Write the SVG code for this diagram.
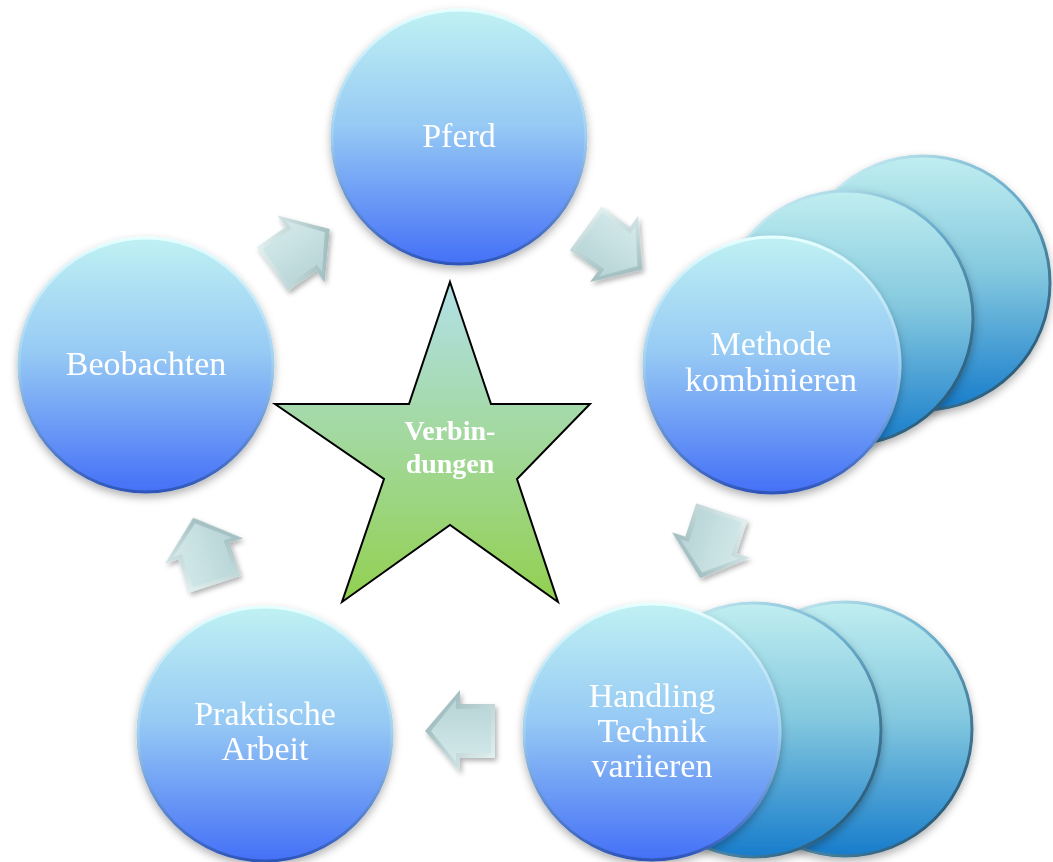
<svg xmlns="http://www.w3.org/2000/svg" width="1053" height="862" viewBox="0 0 1053 862">
<defs>
<linearGradient id="gFront" x1="0" y1="0" x2="0" y2="1">
<stop offset="0" stop-color="#bff1f3"/>
<stop offset="0.45" stop-color="#97caf4"/>
<stop offset="1" stop-color="#4470f7"/>
</linearGradient>
<linearGradient id="gBack" x1="0" y1="0" x2="0" y2="1">
<stop offset="0" stop-color="#c0eef0"/>
<stop offset="0.45" stop-color="#85c9df"/>
<stop offset="1" stop-color="#177ccb"/>
</linearGradient>
<linearGradient id="gRimF" x1="0" y1="0" x2="0" y2="1">
<stop offset="0" stop-color="#e6ffff"/>
<stop offset="0.5" stop-color="#9fd0f0"/>
<stop offset="1" stop-color="#2e55b8"/>
</linearGradient>
<linearGradient id="gRimB" x1="0" y1="0" x2="1" y2="1">
<stop offset="0" stop-color="#e6ffff"/>
<stop offset="0.5" stop-color="#6aaecc"/>
<stop offset="1" stop-color="#143e5c"/>
</linearGradient>
<linearGradient id="gStar" x1="0" y1="0" x2="0" y2="1">
<stop offset="0" stop-color="#b2e0e8"/>
<stop offset="1" stop-color="#92d050"/>
</linearGradient>
<linearGradient id="gArrO" x1="0" y1="0" x2="1" y2="1">
<stop offset="0" stop-color="#eaf6f6"/>
<stop offset="1" stop-color="#8cadb0"/>
</linearGradient>
<linearGradient id="gArrI" x1="0" y1="0" x2="0" y2="1">
<stop offset="0" stop-color="#d3e9ea"/>
<stop offset="1" stop-color="#b7d4d6"/>
</linearGradient>
<filter id="sh" x="-20%" y="-20%" width="140%" height="140%">
<feDropShadow dx="0" dy="4" stdDeviation="4" flood-color="#000" flood-opacity="0.3"/>
</filter>
<filter id="shA" x="-30%" y="-30%" width="160%" height="160%">
<feDropShadow dx="2" dy="3" stdDeviation="2.5" flood-color="#000" flood-opacity="0.3"/>
</filter>
<g id="arrow">
<path d="M -35,-27 L 0,-27 L 0,-41 L 35,0 L 0,41 L 0,27 L -35,27 Z" fill="url(#gArrO)"/>
<path d="M -31,-22 L 4,-22 L 4,-31 L 29,0 L 4,31 L 4,22 L -31,22 Z" fill="url(#gArrI)"/>
</g>
</defs>
<style>
.front { fill: url(#gFront); stroke: url(#gRimF); stroke-width: 3; filter: url(#sh); }
.back { fill: url(#gBack); stroke: url(#gRimB); stroke-width: 3; filter: url(#sh); }
.lbl { font-family: "Liberation Serif", "Times New Roman", serif; font-size: 34px; fill: #ffffff; text-anchor: middle; }
.star { font-family: "Liberation Serif", "Times New Roman", serif; font-size: 28px; font-weight: bold; fill: #ffffff; text-anchor: middle; }
</style>
<rect width="1053" height="862" fill="#ffffff"/>

<g id="connectors" filter="url(#shA)">
<use href="#arrow" transform="translate(301,249) rotate(-35)"/>
<use href="#arrow" transform="translate(614,249) rotate(36)"/>
<use href="#arrow" transform="translate(711,545) rotate(108)"/>
<use href="#arrow" transform="translate(460,731) rotate(180)"/>
<use href="#arrow" transform="translate(204,551) rotate(-108)"/>
</g>

<g id="node-pferd">
<circle class="front" cx="459" cy="137" r="127"/>
<text class="lbl" x="459" y="147">Pferd</text>
</g>

<g id="node-methode">
<circle class="back" cx="923" cy="283" r="127"/>
<circle class="back" cx="846" cy="318" r="127"/>
<circle class="front" cx="772" cy="365" r="128"/>
<text class="lbl" x="771" y="355">Methode</text>
<text class="lbl" x="771" y="391">kombinieren</text>
</g>

<g id="node-handling">
<circle class="back" cx="845" cy="729" r="127"/>
<circle class="back" cx="754" cy="730" r="127"/>
<circle class="front" cx="652" cy="732" r="128"/>
<text class="lbl" x="652" y="707">Handling</text>
<text class="lbl" x="652" y="742">Technik</text>
<text class="lbl" x="652" y="777">variieren</text>
</g>

<g id="node-praktische">
<circle class="front" cx="265" cy="734" r="127"/>
<text class="lbl" x="265" y="725">Praktische</text>
<text class="lbl" x="265" y="760">Arbeit</text>
</g>

<g id="node-beobachten">
<circle class="front" cx="146" cy="365" r="127"/>
<text class="lbl" x="146" y="375">Beobachten</text>
</g>

<g id="node-verbindungen">
<path d="M 450,282 L 491,404 L 590,404 L 517,479 L 558,602 L 450,525 L 342,602 L 384,479 L 275,404 L 409,404 Z" fill="url(#gStar)" stroke="#000" stroke-width="2" stroke-linejoin="miter"/>
<text class="star" x="450" y="440">Verbin-</text>
<text class="star" x="450" y="473">dungen</text>
</g>
</svg>
